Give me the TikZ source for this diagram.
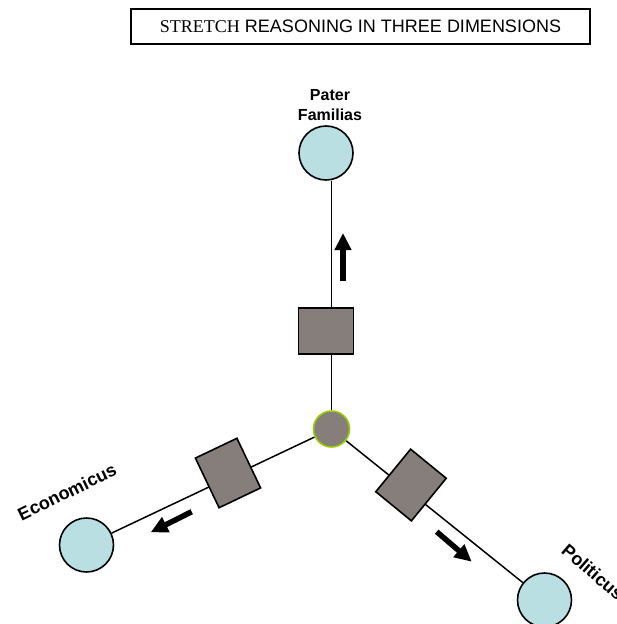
\documentclass[tikz,border=0pt]{standalone}
\usepackage{fontspec}
\setmainfont{Liberation Serif}
\setsansfont{Liberation Sans}
\usetikzlibrary{arrows.meta,backgrounds,positioning}

\definecolor{agentblue}{RGB}{185,223,226}
\definecolor{stretchgray}{RGB}{134,126,123}
\definecolor{hubgreen}{RGB}{153,204,0}

\begin{document}
\begin{tikzpicture}[x=1pt,y=-1pt,
    agent/.style={circle,draw,line width=1.6pt,fill=agentblue,minimum size=54pt,inner sep=0pt},
    stretchbox/.style={rectangle,draw,line width=1.6pt,fill=stretchgray,minimum width=55pt,minimum height=46pt,inner sep=0pt},
    tie/.style={draw,line width=1.5pt},
    pull/.style={line width=5.5pt,-{Triangle[length=17pt,width=16pt]}},
    lbl/.style={font=\sffamily\bfseries\fontsize{16}{20}\selectfont,inner sep=1pt},
    armlbl/.style={font=\sffamily\bfseries\fontsize{18}{20}\selectfont,inner sep=1pt}]
    \useasboundingbox (0,0) rectangle (617,624);

    \node[draw,line width=1.5pt,minimum width=459pt,minimum height=35pt,
      font=\sffamily\fontsize{18}{20}\selectfont] (head) at (360.5,26.5)
      {{\rmfamily STRETCH} REASONING IN THREE DIMENSIONS};

    % the three ends
    \node[agent] (pater) at (326,153) {};
    \node[agent] (econ) at (86.5,545) {};
    \node[agent] (polit) at (544.5,600) {};

    \node[lbl,align=center,above=3pt of pater,xshift=4pt] (paterlbl) {Pater\\Familias};
    \node[armlbl,rotate=26] (econlbl) at (67,492) {Economicus};
    \node[armlbl,rotate=-41] (politlbl) at (593,572) {Politicus};

    % centre and the stretch on each arm
    \node[circle,draw=hubgreen,line width=1.6pt,fill=stretchgray,minimum size=36pt,inner sep=0pt] (hub) at (331.5,429) {};
    \node[stretchbox] (sq1) at (326,331) {};
    \node[stretchbox,rotate=115.5] (sq2) at (228,473) {};
    \node[stretchbox,rotate=50.7] (sq3) at (411,485) {};

    \begin{pgfonlayer}{background}
      \draw[tie] (hub) -- (hub |- pater.south);
      \draw[tie] (hub) -- (econ);
      \draw[tie] (hub) -- (polit);
    \end{pgfonlayer}

    \coordinate (upTail) at (343,281);
    \coordinate (upTip) at (343,233);
    \coordinate (econTail) at (191.7,511.7);
    \coordinate (econTip) at (150.7,532.3);
    \coordinate (politTail) at (436.7,531.7);
    \coordinate (politTip) at (471.7,561.7);

    \draw[pull] (upTail) -- (upTip);
    \draw[pull] (econTail) -- (econTip);
    \draw[pull] (politTail) -- (politTip);
\end{tikzpicture}
\end{document}
